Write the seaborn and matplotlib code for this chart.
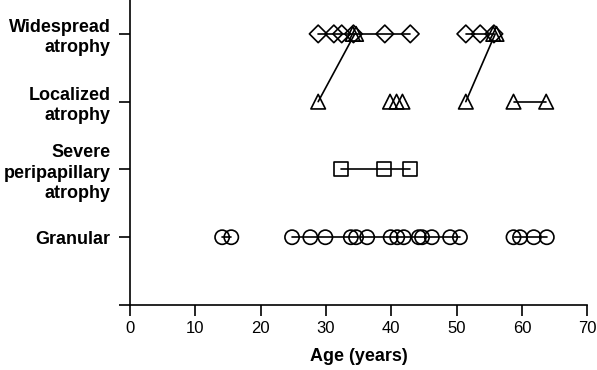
import numpy as np
import pandas as pd
import matplotlib
matplotlib.use("Agg")
import matplotlib.pyplot as plt
import seaborn as sns

# Row categories (bottom to top) and their y levels
categories = ["Granular", "Severe\nperipapillary\natrophy", "Localized\natrophy", "Widespread\natrophy"]
levels = [1, 2, 3, 4]

# Ages (years), per marker type and row
widespread_diamond = [28.8, 31.2, 32.4, 34.2, 39.0, 42.9, 51.4, 53.6, 55.7]
widespread_triangle = [34.1, 34.6, 55.6, 56.1]
localized_triangle = [28.8, 39.8, 40.8, 41.7, 51.4, 58.7, 63.7]
severe_square = [32.3, 38.9, 42.8]
granular_circle = [14.1, 15.5, 24.8, 27.6, 29.9, 33.8, 34.6, 36.3, 39.9, 40.9,
                   41.9, 44.2, 44.7, 46.2, 49.0, 50.5, 58.7, 59.7, 61.8, 63.8]

# Connecting lines (follow-up tracks): ages and row levels
track_ages = [
    [28.8, 42.9], [51.4, 55.7],        # widespread diamonds
    [28.8, 34.4], [51.4, 55.9],        # localized -> widespread
    [58.7, 63.7],                      # localized
    [32.3, 42.8],                      # severe peripapillary
    [14.1, 15.5], [24.8, 50.5], [58.7, 63.8],  # granular
]
track_levels = [
    [4, 4], [4, 4],
    [3, 4], [3, 4],
    [3, 3],
    [2, 2],
    [1, 1], [1, 1], [1, 1],
]

xticks = [0, 10, 20, 30, 40, 50, 60, 70]

sns.set_style("ticks", {"text.color": "black", "axes.labelcolor": "black",
                        "xtick.color": "black", "ytick.color": "black",
                        "axes.edgecolor": "black"})
plt.rcParams["font.family"] = ["Liberation Sans", "DejaVu Sans"]

tracks = pd.DataFrame(
    [(i, a, l) for i, (ages, lv) in enumerate(zip(track_ages, track_levels))
     for a, l in zip(ages, lv)],
    columns=["track", "age", "level"],
)

fig = plt.figure(figsize=(5.97, 3.70), dpi=100)
ax = fig.add_axes([0.2178, 0.1757, 0.766, 0.8243])

sns.lineplot(data=tracks, x="age", y="level", units="track", estimator=None,
             sort=False, color="black", linewidth=1.2, ax=ax, legend=False)

point_sets = [
    (widespread_diamond, 4, "D", 80),
    (widespread_triangle, 4, "^", 110),
    (localized_triangle, 3, "^", 110),
    (severe_square, 2, "s", 100),
    (granular_circle, 1, "o", 105),
]
for ages, lv, mk, size in point_sets:
    df = pd.DataFrame({"age": ages, "level": [lv] * len(ages)})
    sns.scatterplot(data=df, x="age", y="level", marker=mk, s=size,
                    facecolors="none", edgecolors="black", linewidths=1.2,
                    ax=ax, legend=False, zorder=3)

ax.set_xlim(0, 70)
ax.set_ylim(0, 4.5)
ax.set_xticks(xticks)
ax.set_xticklabels([str(t) for t in xticks], fontsize=12, color="black")
ax.set_yticks([0] + levels)
ax.set_yticklabels([""] + categories, fontsize=13, fontweight="bold",
                   linespacing=1.25, color="black")
ax.set_xlabel("Age (years)", fontsize=13, fontweight="bold", labelpad=9, color="black")
ax.set_ylabel("")
ax.tick_params(axis="both", direction="out", length=8, width=1.2, color="black")
ax.tick_params(axis="y", pad=6)
for side in ["top", "right"]:
    ax.spines[side].set_visible(False)
for side in ["left", "bottom"]:
    ax.spines[side].set_linewidth(1.2)
    ax.spines[side].set_color("black")

fig.savefig("out.png", dpi=100)
